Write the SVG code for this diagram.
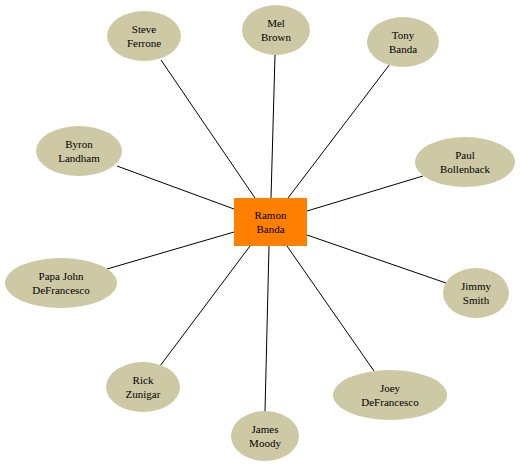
<svg xmlns="http://www.w3.org/2000/svg" width="520" height="466" viewBox="0 0 520 466">
<style>
.n ellipse{fill:#cdc9a5;stroke:none}
.c rect{fill:#ff7f00;stroke:none}
text{font-family:"Liberation Serif","Times New Roman",serif;font-size:11px;fill:#000;text-anchor:middle}
.e line{stroke:#000;stroke-width:1}
</style>
<rect width="520" height="466" fill="#fff"/>
<g class="e" id="edges">
<line x1="255" y1="198" x2="161" y2="60"/>
<line x1="271" y1="198" x2="275" y2="55"/>
<line x1="288" y1="198" x2="390" y2="64"/>
<line x1="234" y1="209" x2="117" y2="166"/>
<line x1="307" y1="211" x2="423" y2="176"/>
<line x1="234" y1="232" x2="107" y2="269"/>
<line x1="307" y1="235" x2="446" y2="283"/>
<line x1="250" y1="246" x2="160" y2="366"/>
<line x1="269" y1="246" x2="265" y2="411"/>
<line x1="287" y1="246" x2="374" y2="371"/>
</g>
<g class="c" id="ramon"><rect x="234" y="198" width="73" height="48"/><text x="270.5" y="219">Ramon</text><text x="270.5" y="233">Banda</text></g>
<g class="n" id="steve"><ellipse cx="144" cy="36" rx="37" ry="25"/><text x="144" y="33">Steve</text><text x="144" y="47">Ferrone</text></g>
<g class="n" id="mel"><ellipse cx="276" cy="30" rx="34" ry="25"/><text x="276" y="27">Mel</text><text x="276" y="41">Brown</text></g>
<g class="n" id="tony"><ellipse cx="403" cy="42" rx="36" ry="25"/><text x="403" y="39">Tony</text><text x="403" y="53">Banda</text></g>
<g class="n" id="byron"><ellipse cx="79" cy="151" rx="43" ry="25"/><text x="79" y="148">Byron</text><text x="79" y="162">Landham</text></g>
<g class="n" id="paul"><ellipse cx="465" cy="162" rx="50" ry="25"/><text x="465" y="159">Paul</text><text x="465" y="173">Bollenback</text></g>
<g class="n" id="papa"><ellipse cx="61" cy="283" rx="56" ry="25"/><text x="61" y="280">Papa John</text><text x="61" y="294">DeFrancesco</text></g>
<g class="n" id="jimmy"><ellipse cx="476" cy="293" rx="33" ry="25"/><text x="476" y="290">Jimmy</text><text x="476" y="304">Smith</text></g>
<g class="n" id="rick"><ellipse cx="143" cy="387" rx="37" ry="25"/><text x="143" y="384">Rick</text><text x="143" y="398">Zunigar</text></g>
<g class="n" id="james"><ellipse cx="265" cy="436" rx="34" ry="25"/><text x="265" y="433">James</text><text x="265" y="447">Moody</text></g>
<g class="n" id="joey"><ellipse cx="390" cy="395" rx="57" ry="25"/><text x="390" y="392">Joey</text><text x="390" y="406">DeFrancesco</text></g>
</svg>
